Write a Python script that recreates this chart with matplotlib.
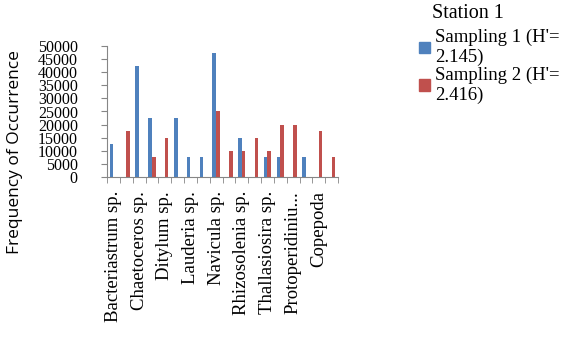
import matplotlib
matplotlib.use("Agg")
import matplotlib.pyplot as plt
from matplotlib.patches import Patch
import numpy as np

# 18 categories, only every other one is labelled in the original chart
shown_labels = ["Bacteriastrum sp.", "Chaetoceros sp.", "Ditylum sp.", "Lauderia sp.",
                "Navicula sp.", "Rhizosolenia sp.", "Thallasiosira sp.",
                "Protoperidiniu...", "Copepoda"]
sampling1 = [12500, 0, 42500, 22500, 0, 22500, 7500, 7500, 47500,
             0, 15000, 0, 7500, 7500, 0, 7500, 0, 0]
sampling2 = [0, 17500, 0, 7500, 15000, 0, 0, 0, 25000,
             10000, 10000, 15000, 10000, 20000, 20000, 0, 17500, 7500]
series_names = ["Sampling 1 (H'=\n2.145)", "Sampling 2 (H'=\n2.416)"]
yticks = list(range(0, 50001, 5000))

blue = "#4F81BD"
red = "#C0504D"
serif = "Liberation Serif"

fig = plt.figure(figsize=(5.68, 3.4), dpi=100)
ax = fig.add_axes([107 / 568, 1 - 177 / 340, 231 / 568, 131 / 340])

x = np.arange(len(sampling1))
w = 0.286
ax.bar(x - w / 2, sampling1, width=w, color=blue)
ax.bar(x + w / 2, sampling2, width=w, color=red)

ax.set_xlim(-0.5, len(x) - 0.5)
ax.set_ylim(0, 50000)
ax.set_yticks(yticks)
ax.set_yticklabels([str(v) for v in yticks], fontfamily=serif, fontsize=11.5)

ax.set_xticks(x[::2])
ax.set_xticklabels(shown_labels, rotation=90, fontfamily=serif, fontsize=13.5)
ax.set_xticks(np.arange(-0.5, len(x)), minor=True)
ax.tick_params(axis="x", which="major", length=0, pad=10)
ax.tick_params(axis="x", which="minor", length=4, color="#868686")
ax.tick_params(axis="y", length=4, color="#868686", pad=17)

for s in ["top", "right"]:
    ax.spines[s].set_visible(False)
for s in ["left", "bottom"]:
    ax.spines[s].set_color("#868686")

fig.text(15 / 568, 1 - 152 / 340, "Frequency of Occurrence", rotation=90,
         ha="center", va="center", fontfamily="Open Sans", fontsize=12.5)

fig.text(432 / 568, 1 - 14 / 340, "Station 1", ha="left", va="center",
         fontfamily=serif, fontsize=14.5)
handles = [Patch(color=blue), Patch(color=red)]
fig.legend(handles, series_names, loc="upper left",
           bbox_to_anchor=(419 / 568, 1 - 29 / 340), frameon=False,
           prop={"family": serif, "size": 13.5}, handlelength=0.6,
           handleheight=0.6, handletextpad=0.25, labelspacing=0.0,
           borderpad=0, borderaxespad=0)

fig.savefig("out.png", dpi=100)
